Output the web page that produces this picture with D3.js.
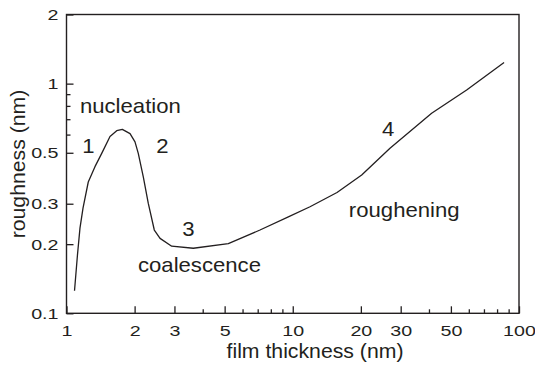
<!DOCTYPE html>
<html>
<head>
<meta charset="utf-8">
<script src="https://cdn.jsdelivr.net/npm/d3@7"></script>
<style>
  html, body { margin: 0; padding: 0; background: #fff; }
  svg { display: block; font-family: "Liberation Sans", Arial, Helvetica, sans-serif; }
</style>
</head>
<body>
<svg id="chart" width="535" height="365"></svg>
<script>
// Film thickness (nm) and surface roughness (nm) along the growth curve
const thickness = [1.085, 1.118, 1.147, 1.183, 1.248, 1.336, 1.431, 1.557, 1.667, 1.765,
                   1.909, 2.008, 2.076, 2.185, 2.299, 2.444, 2.591, 2.917, 3.635, 5.19,
                   7.165, 9.56, 11.92, 15.69, 20.17, 26.9, 41.1, 58.7, 85.9];
const roughness = [0.1254, 0.1794, 0.235, 0.287, 0.373, 0.435, 0.497, 0.589, 0.624, 0.632,
                   0.606, 0.558, 0.497, 0.393, 0.301, 0.2305, 0.212, 0.196, 0.192, 0.201,
                   0.2305, 0.263, 0.291, 0.3357, 0.400, 0.523, 0.743, 0.938, 1.236];

// Axis ticks
const xMajorTicks = [1, 2, 3, 5, 10, 20, 30, 50, 100];
const xMinorTicks = [4, 6, 7, 8, 9, 40, 60, 70, 80, 90];
const yMajorTicks = [0.1, 0.2, 0.3, 0.5, 1, 2];
const yMinorTicks = [0.6, 0.7, 0.8, 0.9];

// Growth-stage annotations, anchored in data coordinates
const stageLabels = ["nucleation", "1", "2", "3", "coalescence", "4", "roughening"];
const stageX      = [1.916, 1.251, 2.657, 3.46, 3.87, 26.4, 31.1];
const stageY      = [0.745, 0.499, 0.500, 0.2177, 0.1518, 0.591, 0.263];

const ink = "#231f20";
const svg = d3.select("#chart");

const plotLeft = 66.5, plotRight = 519, plotTop = 14.5, plotBottom = 313.3;
const x = d3.scaleLog().domain([1, 100]).range([plotLeft, plotRight]);
const y = d3.scaleLog().domain([0.1, 2]).range([plotBottom, plotTop]);

const fmt = d => String(d);
const tickSX = 1.27;

// Frame
svg.append("rect")
  .attr("x", plotLeft).attr("y", plotTop)
  .attr("width", plotRight - plotLeft).attr("height", plotBottom - plotTop)
  .attr("fill", "none").attr("stroke", ink).attr("stroke-width", 1.4);

// Bottom axis: major ticks with labels
const gx = svg.append("g").attr("transform", `translate(0,${plotBottom})`)
  .call(d3.axisBottom(x).tickValues(xMajorTicks).tickFormat(fmt).tickSize(-7).tickPadding(12));
gx.select(".domain").remove();
gx.selectAll(".tick line").attr("stroke", ink).attr("stroke-width", 1.3);
gx.selectAll(".tick text")
  .attr("fill", ink).attr("font-size", 15.5)
  .attr("font-family", "Liberation Sans, Arial, sans-serif")
  .attr("transform", `scale(${tickSX},1)`);

// Bottom axis: minor ticks
const gxm = svg.append("g").attr("transform", `translate(0,${plotBottom})`)
  .call(d3.axisBottom(x).tickValues(xMinorTicks).tickFormat("").tickSize(-4));
gxm.select(".domain").remove();
gxm.selectAll(".tick line").attr("stroke", ink).attr("stroke-width", 1.3);

// Left axis: major ticks with labels
const gy = svg.append("g").attr("transform", `translate(${plotLeft},0)`)
  .call(d3.axisLeft(y).tickValues(yMajorTicks).tickFormat(fmt).tickSize(-7).tickPadding(8));
gy.select(".domain").remove();
gy.selectAll(".tick line").attr("stroke", ink).attr("stroke-width", 1.3);
gy.selectAll(".tick text")
  .attr("fill", ink).attr("font-size", 15.5)
  .attr("font-family", "Liberation Sans, Arial, sans-serif")
  .attr("x", -8 / tickSX)
  .attr("transform", `scale(${tickSX},1)`);

// Left axis: minor ticks
const gym = svg.append("g").attr("transform", `translate(${plotLeft},0)`)
  .call(d3.axisLeft(y).tickValues(yMinorTicks).tickFormat("").tickSize(-4));
gym.select(".domain").remove();
gym.selectAll(".tick line").attr("stroke", ink).attr("stroke-width", 1.3);

// Axis titles
svg.append("text")
  .attr("transform", `translate(315,357.5) scale(1.09,1)`)
  .attr("text-anchor", "middle").attr("font-size", 19.5).attr("fill", ink)
  .text("film thickness (nm)");

svg.append("text")
  .attr("transform", `translate(25,164) rotate(-90) scale(1.09,1)`)
  .attr("text-anchor", "middle").attr("font-size", 19.5).attr("fill", ink)
  .text("roughness (nm)");

// Roughness curve
const line = d3.line().x(d => x(d[0])).y(d => y(d[1]));
svg.append("path")
  .datum(d3.zip(thickness, roughness))
  .attr("d", line)
  .attr("fill", "none").attr("stroke", ink).attr("stroke-width", 1.3)
  .attr("stroke-linejoin", "round");

// Stage annotations
svg.append("g").selectAll("text")
  .data(d3.range(stageLabels.length))
  .join("text")
  .attr("transform", i => `translate(${x(stageX[i])},${y(stageY[i])}) scale(1.08,1)`)
  .attr("text-anchor", "middle").attr("font-size", 20.5).attr("fill", ink)
  .text(i => stageLabels[i]);
</script>
</body>
</html>
